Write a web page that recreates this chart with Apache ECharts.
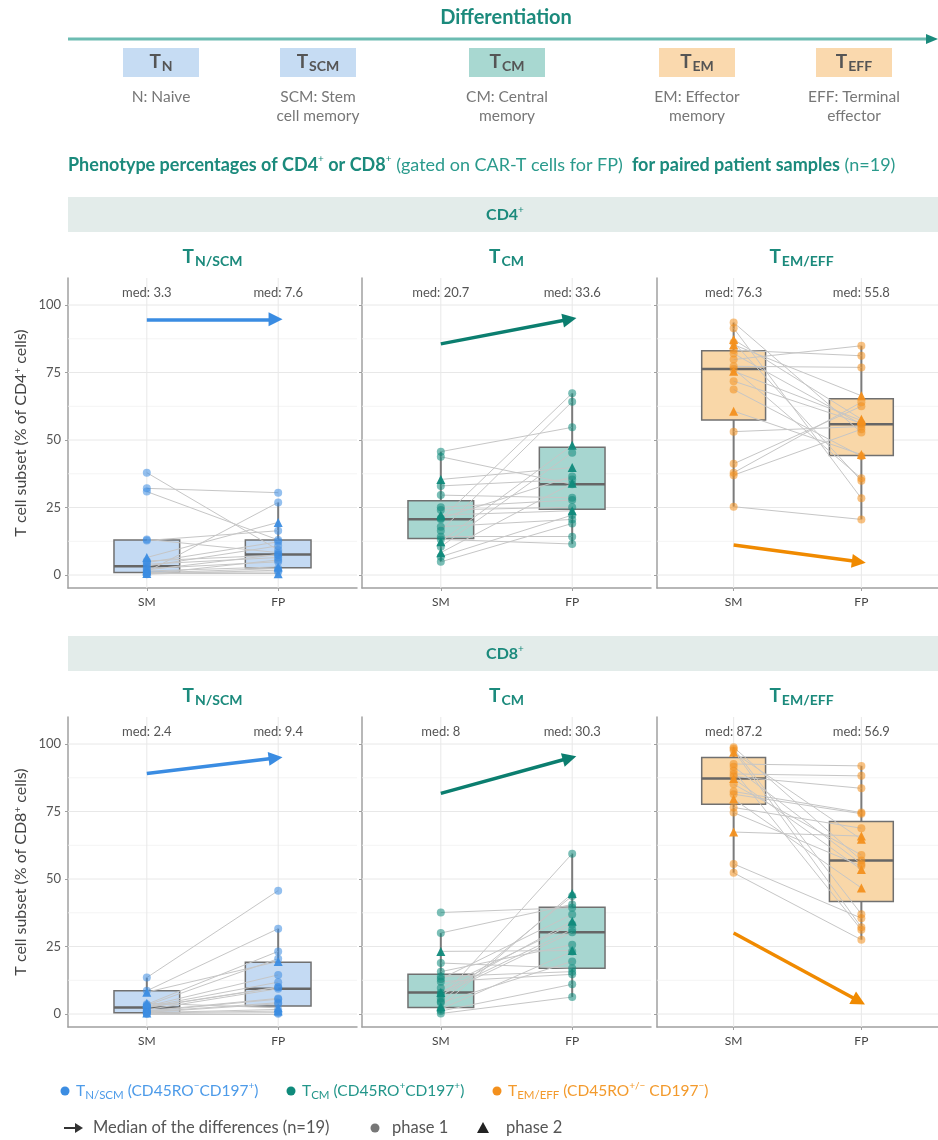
<!DOCTYPE html>
<html><head><meta charset="utf-8">
<script src="https://cdn.jsdelivr.net/npm/echarts@6/dist/echarts.min.js"></script>
<style>html,body{margin:0;padding:0;background:#fff}#c{width:938px;height:1140px}</style>
</head><body><div id="c"></div><script>
// ---------------- DATA ----------------
const timepoints = ['SM', 'FP'];
const yTicks = [0, 25, 50, 75, 100];
const yMinor = [12.5, 37.5, 62.5, 87.5];
const subsetMain = ['T', 'T', 'T'];
const subsetSub = ['N/SCM', 'CM', 'EM/EFF'];
const rowLabels = ['CD4', 'CD8'];

// CD4+ T N/SCM
const cd4_nscm_sm = [37.9, 32.1, 30.9, 13.2, 12.8, 6.5, 5.2, 4.6, 4.0, 3.3, 2.4, 1.9, 1.5, 1.2, 1.0, 0.8, 0.6, 0.4, 0.3];
const cd4_nscm_fp = [9.3, 30.5, 13.0, 8.3, 16.4, 19.5, 7.4, 12.3, 6.5, 10.8, 4.9, 7.6, 3.0, 26.9, 1.1, 2.4, 0.5, 5.6, 1.8];
const cd4_nscm_phase = [1,1,1,1,1,2,1,1,1,1,1,1,2,1,1,1,2,1,1];
const cd4_nscm_box_sm = [0.3, 0.9, 3.3, 13.0, 13.2];
const cd4_nscm_box_fp = [0.5, 2.7, 7.6, 13.0, 26.9];
const cd4_nscm_med = ['3.3', '7.6'];
const cd4_nscm_arrow = [94.7, 94.7];
// CD4+ T CM
const cd4_cm_sm = [45.7, 43.8, 35.4, 33.0, 29.6, 25.1, 24.1, 22.2, 21.0, 20.7, 17.9, 16.4, 14.2, 13.2, 12.3, 10.5, 8.3, 6.8, 4.9];
const cd4_cm_fp = [54.7, 33.6, 39.8, 35.4, 28.6, 27.8, 25.1, 23.8, 36.5, 67.3, 20.6, 64.2, 14.2, 11.5, 48.1, 45.3, 34.0, 22.2, 19.1];
const cd4_cm_phase = [1,1,2,1,1,1,1,2,1,1,1,1,1,1,2,1,2,1,1];
const cd4_cm_box_sm = [4.9, 13.5, 20.7, 27.5, 45.7];
const cd4_cm_box_fp = [11.5, 24.4, 33.6, 47.3, 67.3];
const cd4_cm_med = ['20.7', '33.6'];
const cd4_cm_arrow = [85.6, 94.7];
// CD4+ T EM/EFF
const cd4_emeff_sm = [93.5, 91.4, 87.2, 86.1, 85.3, 83.3, 82.0, 79.8, 77.3, 76.3, 75.5, 71.8, 68.7, 60.7, 53.1, 41.2, 37.9, 37.0, 25.3];
const cd4_emeff_fp = [52.8, 28.4, 57.7, 34.9, 66.4, 81.2, 55.8, 84.9, 76.9, 35.8, 57.2, 56.2, 44.0, 44.6, 55.0, 62.5, 64.0, 54.0, 20.6];
const cd4_emeff_phase = [1,1,2,1,2,1,1,1,1,1,2,1,1,2,1,1,1,1,1];
const cd4_emeff_box_sm = [25.3, 57.4, 76.3, 83.1, 93.5];
const cd4_emeff_box_fp = [20.6, 44.3, 55.8, 65.3, 84.9];
const cd4_emeff_med = ['76.3', '55.8'];
const cd4_emeff_arrow = [11.1, 4.9];
// CD8+ T N/SCM
const cd8_nscm_sm = [13.5, 8.6, 8.1, 4.0, 3.6, 3.2, 2.9, 2.7, 2.5, 2.4, 1.6, 1.2, 1.0, 0.8, 0.6, 0.5, 0.4, 0.2, 0.1];
const cd8_nscm_fp = [45.7, 31.6, 19.5, 2.3, 23.2, 20.5, 14.5, 11.8, 10.0, 9.9, 9.4, 5.8, 5.5, 4.2, 3.8, 1.7, 1.1, 0.5, 0.1];
const cd8_nscm_phase = [1,1,2,2,1,1,1,1,1,1,1,1,1,1,1,1,2,1,1];
const cd8_nscm_box_sm = [0.1, 0.5, 2.4, 8.6, 13.5];
const cd8_nscm_box_fp = [0.1, 3.0, 9.4, 19.2, 31.6];
const cd8_nscm_med = ['2.4', '9.4'];
const cd8_nscm_arrow = [89.1, 94.8];
// CD8+ T CM
const cd8_cm_sm = [37.6, 30.0, 23.2, 18.9, 15.7, 13.9, 13.0, 12.0, 9.6, 8.0, 7.9, 7.1, 5.8, 4.6, 4.2, 2.7, 1.8, 1.1, 0.2];
const cd8_cm_fp = [39.4, 40.6, 23.5, 17.0, 25.7, 15.7, 36.9, 14.7, 33.2, 34.4, 31.3, 30.3, 59.4, 43.7, 19.5, 44.6, 23.2, 11.0, 6.3];
const cd8_cm_phase = [1,1,2,1,1,1,1,1,1,2,1,1,1,1,1,2,1,1,1];
const cd8_cm_box_sm = [0.2, 2.4, 8.0, 14.7, 30.0];
const cd8_cm_box_fp = [6.3, 17.0, 30.3, 39.5, 59.4];
const cd8_cm_med = ['8', '30.3'];
const cd8_cm_arrow = [81.7, 94.8];
// CD8+ T EM/EFF
const cd8_emeff_sm = [98.8, 98.2, 97.6, 96.9, 92.6, 91.6, 90.1, 88.9, 88.0, 87.2, 85.1, 82.4, 81.4, 79.6, 76.5, 74.6, 67.4, 55.6, 52.3];
const cd8_emeff_fp = [56.9, 37.0, 32.1, 64.7, 91.9, 55.6, 31.2, 88.2, 83.6, 53.5, 58.9, 74.6, 74.2, 46.7, 68.8, 54.8, 65.9, 35.5, 27.5];
const cd8_emeff_phase = [1,1,1,2,1,1,1,1,1,2,1,1,1,2,1,1,2,1,1];
const cd8_emeff_box_sm = [52.3, 77.7, 87.2, 95.0, 98.8];
const cd8_emeff_box_fp = [27.5, 41.7, 56.9, 71.3, 91.9];
const cd8_emeff_med = ['87.2', '56.9'];
const cd8_emeff_arrow = [30.0, 4.8];

// ---------------- STYLE ----------------
const FONT = 'Lato, "Noto Sans", sans-serif';
const TEAL = '#1b8a7c';
const palette = [
  {pt: '#3c8de2', fill: '#c4daf3', arrow: '#3a8ce2', text: '#4d9be9'},
  {pt: '#0f8a7b', fill: '#a7d6d0', arrow: '#0b7e6f', text: '#23968a'},
  {pt: '#f3901d', fill: '#f9d7a8', arrow: '#f08a00', text: '#f39a2c'}
];
const panels = [
  {sm: cd4_nscm_sm, fp: cd4_nscm_fp, ph: cd4_nscm_phase, bs: cd4_nscm_box_sm, bf: cd4_nscm_box_fp, med: cd4_nscm_med, arr: cd4_nscm_arrow},
  {sm: cd4_cm_sm, fp: cd4_cm_fp, ph: cd4_cm_phase, bs: cd4_cm_box_sm, bf: cd4_cm_box_fp, med: cd4_cm_med, arr: cd4_cm_arrow},
  {sm: cd4_emeff_sm, fp: cd4_emeff_fp, ph: cd4_emeff_phase, bs: cd4_emeff_box_sm, bf: cd4_emeff_box_fp, med: cd4_emeff_med, arr: cd4_emeff_arrow},
  {sm: cd8_nscm_sm, fp: cd8_nscm_fp, ph: cd8_nscm_phase, bs: cd8_nscm_box_sm, bf: cd8_nscm_box_fp, med: cd8_nscm_med, arr: cd8_nscm_arrow},
  {sm: cd8_cm_sm, fp: cd8_cm_fp, ph: cd8_cm_phase, bs: cd8_cm_box_sm, bf: cd8_cm_box_fp, med: cd8_cm_med, arr: cd8_cm_arrow},
  {sm: cd8_emeff_sm, fp: cd8_emeff_fp, ph: cd8_emeff_phase, bs: cd8_emeff_box_sm, bf: cd8_emeff_box_fp, med: cd8_emeff_med, arr: cd8_emeff_arrow}
];
const lefts = [68, 362, 657], tops = [278, 717], PW = 289, PH = 310;
const XMIN = 0.4, XMAX = 2.6, YMIN = -4.8, YMAX = 110;

const grids = [], xAxes = [], yAxes = [], series = [];
panels.forEach((p, i) => {
  const row = Math.floor(i / 3), col = i % 3, pal = palette[col];
  grids.push({left: lefts[col], top: tops[row], width: PW, height: PH});
  xAxes.push({
    gridIndex: i, type: 'value', min: XMIN, max: XMAX,
    axisLine: {show: true, onZero: false, lineStyle: {color: '#a0a0a0', width: 1.5}},
    axisTick: {show: true, customValues: [1, 2], length: 3, lineStyle: {color: '#a0a0a0'}},
    axisLabel: {show: true, customValues: [1, 2], formatter: v => timepoints[Math.round(v) - 1] || '', color: '#444', fontSize: 12, fontFamily: FONT, margin: 8},
    splitLine: {show: false}
  });
  yAxes.push({
    gridIndex: i, type: 'value', min: YMIN, max: YMAX,
    name: col === 0 ? '{a|T cell subset (% of ' + rowLabels[row] + '}{s|+}{a| cells)}' : '',
    nameLocation: 'middle', nameGap: 39, nameRotate: 90,
    nameTextStyle: {rich: {a: {fontSize: 16, color: '#444', fontFamily: FONT}, s: {fontSize: 10, color: '#444', fontFamily: FONT, verticalAlign: 'top', lineHeight: 11}}},
    axisLine: {show: true, lineStyle: {color: '#a0a0a0', width: 1.5}},
    axisTick: {show: true, customValues: yTicks, length: 3, lineStyle: {color: '#a0a0a0'}},
    axisLabel: {show: col === 0, customValues: yTicks, color: '#555', fontSize: 13, fontFamily: FONT, margin: 7},
    splitLine: {show: false}
  });
  // grid lines (horizontal)
  series.push({
    type: 'custom', xAxisIndex: i, yAxisIndex: i, z: 1, silent: true,
    data: yTicks.map(v => [1.5, v, 1]).concat(yMinor.map(v => [1.5, v, 0])),
    renderItem: (params, api) => {
      const cs = params.coordSys; const y = api.coord([1.5, api.value(1)])[1];
      const major = api.value(2) === 1;
      return {type: 'line', shape: {x1: cs.x, y1: y, x2: cs.x + cs.width, y2: y},
        style: {stroke: major ? '#e8e8e8' : '#f1f1f1', lineWidth: major ? 1 : 0.8}};
    }
  });
  // grid lines (vertical)
  series.push({
    type: 'custom', xAxisIndex: i, yAxisIndex: i, z: 1, silent: true,
    data: [[1, 50], [2, 50]],
    renderItem: (params, api) => {
      const cs = params.coordSys; const x = api.coord([api.value(0), 50])[0];
      return {type: 'line', shape: {x1: x, y1: cs.y, x2: x, y2: cs.y + cs.height}, style: {stroke: '#e8e8e8', lineWidth: 1}};
    }
  });
  // boxes
  series.push({
    type: 'custom', xAxisIndex: i, yAxisIndex: i, z: 2, silent: true,
    encode: {x: 0, y: [1, 2, 3, 4, 5]},
    data: [[1].concat(p.bs), [2].concat(p.bf)],
    renderItem: (params, api) => {
      const x = api.value(0);
      const c = k => api.coord([x, api.value(k)]);
      const lo = c(1), q1 = c(2), md = c(3), q3 = c(4), hi = c(5);
      const w = api.size([0.5, 0])[0];
      return {type: 'group', children: [
        {type: 'line', shape: {x1: lo[0], y1: lo[1], x2: q1[0], y2: q1[1]}, style: {stroke: '#7b7b7b', lineWidth: 2}},
        {type: 'line', shape: {x1: q3[0], y1: q3[1], x2: hi[0], y2: hi[1]}, style: {stroke: '#7b7b7b', lineWidth: 2}},
        {type: 'rect', shape: {x: q3[0] - w / 2, y: q3[1], width: w, height: q1[1] - q3[1]}, style: {fill: pal.fill, stroke: '#707070', lineWidth: 1.5}},
        {type: 'line', shape: {x1: md[0] - w / 2, y1: md[1], x2: md[0] + w / 2, y2: md[1]}, style: {stroke: '#666', lineWidth: 2.5}}
      ]};
    }
  });
  // paired lines
  series.push({
    type: 'lines', coordinateSystem: 'cartesian2d', xAxisIndex: i, yAxisIndex: i, z: 3, silent: true,
    lineStyle: {color: '#c6c6c6', width: 1, opacity: 1},
    data: p.sm.map((v, k) => ({coords: [[1, v], [2, p.fp[k]]]}))
  });
  const pts = ph => {
    const out = [];
    p.sm.forEach((v, k) => { if (p.ph[k] === ph) { out.push([1, v]); out.push([2, p.fp[k]]); } });
    return out;
  };
  series.push({
    type: 'scatter', xAxisIndex: i, yAxisIndex: i, z: 4, silent: true,
    symbol: 'circle', symbolSize: 8, itemStyle: {color: pal.pt, opacity: 0.55},
    data: pts(1)
  });
  series.push({
    type: 'scatter', xAxisIndex: i, yAxisIndex: i, z: 5, silent: true,
    symbol: 'triangle', symbolSize: 9, itemStyle: {color: pal.pt, opacity: 0.95},
    data: pts(2)
  });
  // arrow: median of differences
  series.push({
    type: 'lines', coordinateSystem: 'cartesian2d', xAxisIndex: i, yAxisIndex: i, z: 6, silent: true,
    symbol: ['none', 'triangle'], symbolSize: 14,
    lineStyle: {color: pal.arrow, width: 3.5, opacity: 1},
    data: [{coords: [[1, p.arr[0]], [1.98, p.arr[1]]]}]
  });
  // median labels
  series.push({
    type: 'custom', xAxisIndex: i, yAxisIndex: i, z: 6, silent: true,
    data: [[1, 104.5, 0], [2, 104.5, 1]],
    renderItem: (params, api) => {
      const pt = api.coord([api.value(0), api.value(1)]);
      return {type: 'text', x: pt[0], y: pt[1], style: {text: 'med: ' + p.med[api.value(2)], align: 'center', verticalAlign: 'middle', fill: '#555', font: '13px ' + FONT}};
    }
  });
});

// ---------------- GRAPHIC (header, strips, legend) ----------------
const G = [];
function tsub(main, sub, x, y, size, subSize, drop, color, weight, align) {
  return {type: 'text', x, y, z: 10, style: {
    text: '{m|' + main + '}{s|' + sub + '}', align: align || 'center', verticalAlign: 'middle',
    rich: {
      m: {fontSize: size, fontWeight: weight, fill: color, fontFamily: FONT, lineHeight: size + 4},
      s: {fontSize: subSize, fontWeight: weight, fill: color, fontFamily: FONT, verticalAlign: 'bottom', lineHeight: size + 4 - 2 * drop, padding: [0, 0, 0, 1]}
    }
  }};
}
// header
G.push({type: 'text', x: 506, y: 18, style: {text: 'Differentiation', align: 'center', verticalAlign: 'middle', font: 'bold 20px ' + FONT, fill: TEAL}});
G.push({type: 'line', shape: {x1: 68, y1: 39, x2: 928, y2: 39}, style: {stroke: '#6cbcb2', lineWidth: 3}});
G.push({type: 'polygon', shape: {points: [[926, 34], [938, 39], [926, 44]]}, style: {fill: '#1b8a7c'}});
const hdr = [
  {sub: 'N', cx: 161, fill: '#c6dcf3', l1: 'N: Naive', l2: ''},
  {sub: 'SCM', cx: 318, fill: '#c6dcf3', l1: 'SCM: Stem', l2: 'cell memory'},
  {sub: 'CM', cx: 507, fill: '#a8d8d1', l1: 'CM: Central', l2: 'memory'},
  {sub: 'EM', cx: 697, fill: '#fad9ae', l1: 'EM: Effector', l2: 'memory'},
  {sub: 'EFF', cx: 854, fill: '#fad9ae', l1: 'EFF: Terminal', l2: 'effector'}
];
hdr.forEach(h => {
  G.push({type: 'rect', shape: {x: h.cx - 38, y: 48, width: 76, height: 29}, style: {fill: h.fill}});
  G.push(tsub('T', h.sub, h.cx, 62, 19, 14, 3, '#555', 'bold'));
  G.push({type: 'text', x: h.cx, y: 97, style: {text: h.l1, align: 'center', verticalAlign: 'middle', font: '15.5px ' + FONT, fill: '#777'}});
  if (h.l2) G.push({type: 'text', x: h.cx, y: 116, style: {text: h.l2, align: 'center', verticalAlign: 'middle', font: '15.5px ' + FONT, fill: '#777'}});
});
// title
G.push({type: 'text', x: 68, y: 165, style: {
  text: '{b|Phenotype percentages of CD4}{p|+}{b| or CD8}{p|+}{r| (gated on CAR-T cells for FP) }{b| for paired patient samples}{r| (n=19)}',
  align: 'left', verticalAlign: 'middle',
  rich: {
    b: {fontSize: 18, fontWeight: 'bold', fill: TEAL, fontFamily: FONT, lineHeight: 22},
    r: {fontSize: 18, fill: '#2a9a8c', fontFamily: FONT, lineHeight: 22},
    p: {fontSize: 10, fill: TEAL, fontFamily: FONT, verticalAlign: 'top', lineHeight: 12}
  }
}});
// strips + panel titles
[197, 636].forEach((sy, row) => {
  G.push({type: 'rect', shape: {x: 68, y: sy, width: 880, height: 35}, style: {fill: '#e3ecea'}});
  G.push({type: 'text', x: 505, y: sy + 18, style: {
    text: '{b|' + rowLabels[row] + '}{p|+}', align: 'center', verticalAlign: 'middle',
    rich: {b: {fontSize: 16, fontWeight: 'bold', fill: TEAL, fontFamily: FONT, lineHeight: 20}, p: {fontSize: 10, fill: TEAL, fontFamily: FONT, verticalAlign: 'top', lineHeight: 11}}
  }});
  [0, 1, 2].forEach(col => {
    G.push(tsub(subsetMain[col], subsetSub[col], lefts[col] + PW / 2, sy + 60, 19, 14, 3, TEAL, 'bold'));
  });
});
// legend row 1
const legItems = [
  {cx: 65, sup1: '−', sup2: '+', col: 0},
  {cx: 291, sup1: '+', sup2: '+', col: 1},
  {cx: 497, sup1: '+/−', sup2: '−', col: 2}
];
legItems.forEach(l => {
  const c = palette[l.col];
  G.push({type: 'circle', shape: {cx: l.cx, cy: 1091, r: 4.5}, style: {fill: c.pt}});
  G.push({type: 'text', x: l.cx + 11, y: 1091, style: {
    text: '{m|T}{s|' + subsetSub[l.col] + '}{m| (CD45RO}{p|' + l.sup1 + '}{m|' + (l.col === 2 ? ' ' : '') + 'CD197}{p|' + l.sup2 + '}{m|)}',
    align: 'left', verticalAlign: 'middle',
    rich: {
      m: {fontSize: 15.5, fill: c.text, fontFamily: FONT, lineHeight: 20},
      s: {fontSize: 11.5, fill: c.text, fontFamily: FONT, verticalAlign: 'bottom', lineHeight: 14},
      p: {fontSize: 10, fill: c.text, fontFamily: FONT, verticalAlign: 'top', lineHeight: 11}
    }
  }});
});
// legend row 2
G.push({type: 'line', shape: {x1: 64, y1: 1128, x2: 77, y2: 1128}, style: {stroke: '#333', lineWidth: 2}});
G.push({type: 'polygon', shape: {points: [[75, 1123], [83, 1128], [75, 1133]]}, style: {fill: '#333'}});
G.push({type: 'text', x: 93, y: 1128, style: {text: 'Median of the differences (n=19)', align: 'left', verticalAlign: 'middle', font: '16.5px ' + FONT, fill: '#555'}});
G.push({type: 'circle', shape: {cx: 375, cy: 1128, r: 4.5}, style: {fill: '#777'}});
G.push({type: 'text', x: 392, y: 1128, style: {text: 'phase 1', align: 'left', verticalAlign: 'middle', font: '16.5px ' + FONT, fill: '#555'}});
G.push({type: 'polygon', shape: {points: [[483, 1122], [489, 1133], [477, 1133]]}, style: {fill: '#222'}});
G.push({type: 'text', x: 506, y: 1128, style: {text: 'phase 2', align: 'left', verticalAlign: 'middle', font: '16.5px ' + FONT, fill: '#555'}});

const chart = echarts.init(document.getElementById('c'), null, {renderer: 'canvas'});
chart.setOption({
  animation: false,
  backgroundColor: '#fff',
  textStyle: {fontFamily: FONT},
  grid: grids, xAxis: xAxes, yAxis: yAxes, series: series,
  graphic: G
});
</script></body></html>
